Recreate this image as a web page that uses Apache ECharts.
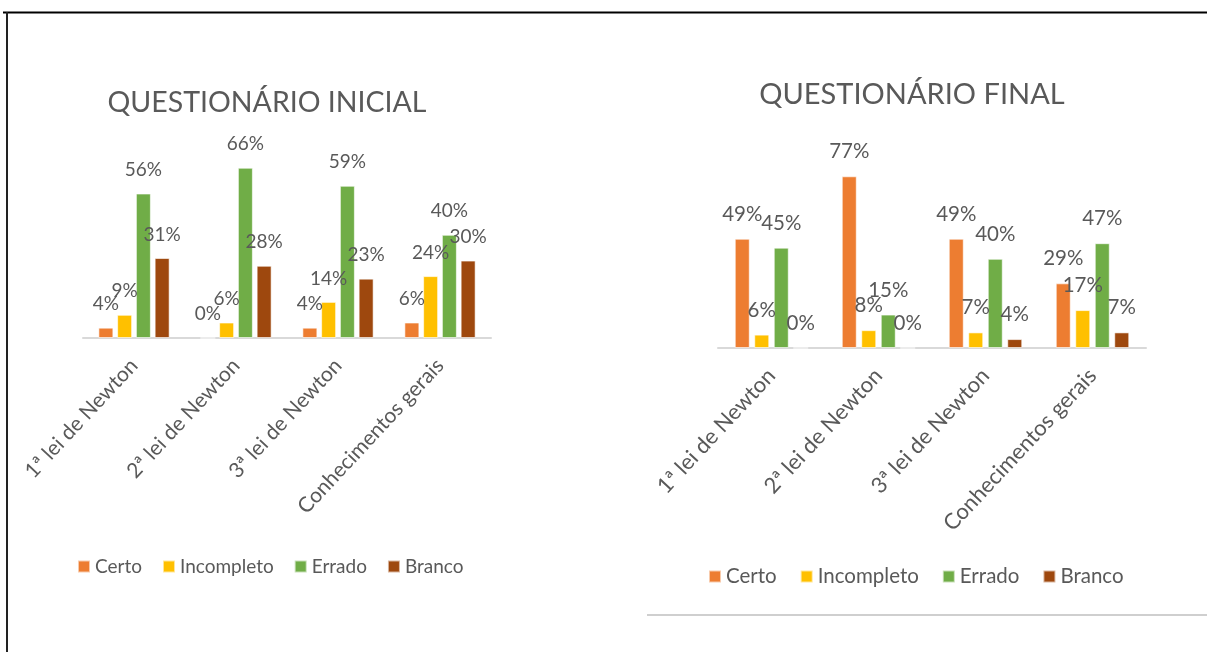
<!DOCTYPE html>
<html>
<head>
<meta charset="utf-8">
<script src="https://cdn.jsdelivr.net/npm/echarts@6/dist/echarts.min.js"></script>
<style>
html,body{margin:0;padding:0;background:#fff;}
#c{width:1207px;height:652px;}
</style>
</head>
<body>
<div id="c"></div>
<script>
const categories = ['1ª lei de Newton', '2ª lei de Newton', '3ª lei de Newton', 'Conhecimentos gerais'];
const seriesNames = ['Certo', 'Incompleto', 'Errado', 'Branco'];
const seriesColors = ['#ED7D31', '#FFC000', '#70AD47', '#9E480E'];

const titleInicial = 'QUESTIONÁRIO INICIAL';
const titleFinal = 'QUESTIONÁRIO FINAL';

// Questionário inicial (%)
const inicialCerto = [4, 0, 4, 6];
const inicialIncompleto = [9, 6, 14, 24];
const inicialErrado = [56, 66, 59, 40];
const inicialBranco = [31, 28, 23, 30];

// Questionário final (%)
const finalCerto = [49, 77, 49, 29];
const finalIncompleto = [6, 8, 7, 17];
const finalErrado = [45, 15, 40, 47];
const finalBranco = [0, 0, 4, 7];

const FONT = 'Lato, "Open Sans", sans-serif';
const GRAY = '#595959';

const inicialData = [inicialCerto, inicialIncompleto, inicialErrado, inicialBranco];
const finalData = [finalCerto, finalIncompleto, finalErrado, finalBranco];

function makeSeries(dataSets, axisIndex, barWidth, barGap, fs) {
  return dataSets.map((d, i) => ({
    name: seriesNames[i],
    type: 'bar',
    xAxisIndex: axisIndex,
    yAxisIndex: axisIndex,
    data: d,
    barWidth: barWidth,
    barGap: barGap,
    itemStyle: { color: seriesColors[i], borderColor: 'rgba(255,255,255,0.6)', borderWidth: 1 },
    label: {
      show: true,
      position: 'top',
      distance: 14,
      formatter: '{c}%',
      fontFamily: FONT,
      fontSize: fs,
      color: GRAY
    }
  }));
}

function xAxisDef(gridIndex, fs) {
  return {
    type: 'category',
    gridIndex: gridIndex,
    data: categories,
    axisLine: { show: true, lineStyle: { color: '#d9d9d9', width: 2 } },
    axisTick: { show: false },
    axisLabel: {
      rotate: 47,
      margin: 24,
      interval: 0,
      fontFamily: FONT,
      fontSize: fs,
      color: GRAY
    }
  };
}

function yAxisDef(gridIndex) {
  return {
    type: 'value',
    gridIndex: gridIndex,
    min: 0,
    max: 100,
    show: false,
    splitLine: { show: false }
  };
}

const chart = echarts.init(document.getElementById('c'), null, { renderer: 'canvas' });
chart.setOption({
  animation: false,
  backgroundColor: '#ffffff',
  title: [
    {
      text: titleInicial,
      left: 262,
      top: 83,
      textAlign: 'center',
      textStyle: { fontFamily: FONT, fontSize: 28.5, fontWeight: 'normal', color: GRAY }
    },
    {
      text: titleFinal,
      left: 907,
      top: 75,
      textAlign: 'center',
      textStyle: { fontFamily: FONT, fontSize: 29, fontWeight: 'normal', color: GRAY }
    }
  ],
  legend: [
    {
      data: seriesNames,
      left: 77,
      top: 557,
      padding: 0,
      icon: 'rect',
      itemWidth: 12,
      itemHeight: 12,
      itemGap: 20,
      textStyle: { fontFamily: FONT, fontSize: 19, color: GRAY },
      selectedMode: false
    },
    {
      data: seriesNames,
      left: 708,
      top: 566,
      padding: 0,
      icon: 'rect',
      itemWidth: 12,
      itemHeight: 12,
      itemGap: 23,
      textStyle: { fontFamily: FONT, fontSize: 20.5, color: GRAY },
      selectedMode: false
    }
  ],
  grid: [
    { left: 83, right: 716, top: 80, bottom: 314 },
    { left: 718, right: 61, top: 125, bottom: 304 }
  ],
  xAxis: [xAxisDef(0, 21), xAxisDef(1, 22)],
  yAxis: [yAxisDef(0), yAxisDef(1)],
  series: makeSeries(inicialData, 0, 15, '25%', 19).concat(makeSeries(finalData, 1, 15, '30%', 20.5)),
  graphic: [
    { type: 'line', shape: { x1: 3, y1: 12.5, x2: 1207, y2: 12.5 }, style: { stroke: '#000', lineWidth: 2 } },
    { type: 'line', shape: { x1: 7, y1: 12, x2: 7, y2: 652 }, style: { stroke: '#222', lineWidth: 2 } },
    { type: 'line', shape: { x1: 647, y1: 615, x2: 1207, y2: 615 }, style: { stroke: '#bfbfbf', lineWidth: 1.5 } }
  ]
});
</script>
</body>
</html>
